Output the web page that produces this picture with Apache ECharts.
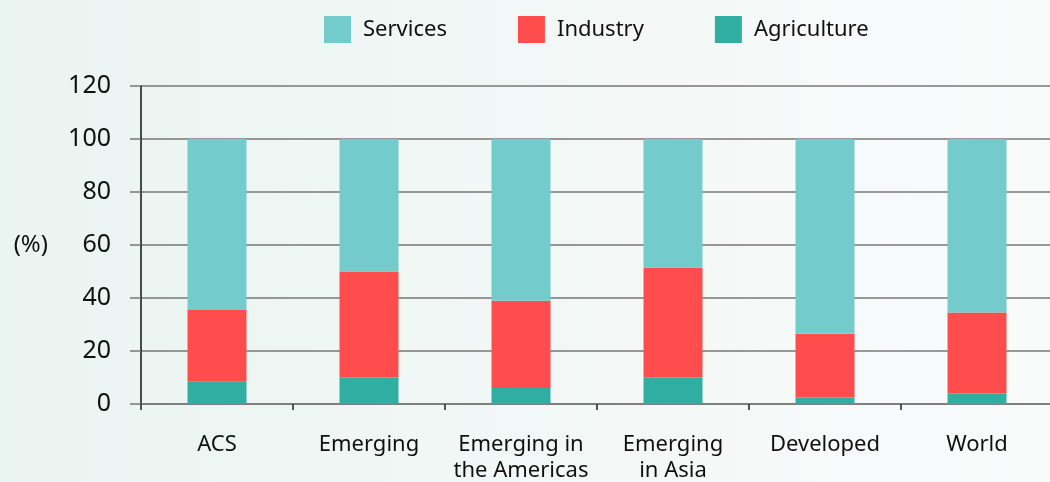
<!DOCTYPE html>
<html>
<head>
<meta charset="utf-8">
<script src="https://cdn.jsdelivr.net/npm/echarts@6/dist/echarts.min.js"></script>
<style>
  html, body { margin: 0; padding: 0; }
  #chart { width: 1050px; height: 482px; }
</style>
</head>
<body>
<div id="chart"></div>
<script>
const categories = ["ACS", "Emerging", "Emerging in\nthe Americas", "Emerging\nin Asia", "Developed", "World"];
const agriculture = [8.4, 10, 6, 10, 2.5, 4];
const industry = [27.1, 40, 33, 41.5, 24, 30.5];
const services = [64.5, 50, 61, 48.5, 73.5, 65.5];
const yTicks = { min: 0, max: 120, interval: 20 };

const colors = {
  services: "#74cbcb",
  industry: "#ff4d4d",
  agriculture: "#31aea2",
};

var chart = echarts.init(document.getElementById("chart"));
var font = "Noto Sans";

var option = {
  backgroundColor: new echarts.graphic.LinearGradient(0, 0, 1, 0, [
    { offset: 0, color: "#eaf4f1" },
    { offset: 1, color: "#f9fbfb" },
  ]),
  animation: false,
  legend: {
    left: 324,
    top: 16,
    padding: 0,
    itemWidth: 27,
    itemHeight: 27,
    itemGap: 71,
    icon: "rect",
    data: ["Services", "Industry", "Agriculture"],
    textStyle: {
      fontFamily: font,
      fontSize: 22,
      color: "#111",
      padding: [0, 0, 0, 7],
    },
  },
  grid: {
    left: 141,
    right: -3,
    top: 86,
    bottom: 78,
    outerBoundsMode: "none",
  },
  xAxis: {
    type: "category",
    data: categories,
    axisLine: { lineStyle: { color: "#777", width: 1.5 } },
    axisTick: { show: true, length: 6, lineStyle: { color: "#222", width: 1.5 } },
    axisLabel: {
      fontFamily: font,
      fontSize: 22,
      color: "#111",
      margin: 28,
      lineHeight: 26,
      interval: 0,
    },
  },
  yAxis: {
    type: "value",
    min: yTicks.min,
    max: yTicks.max,
    interval: yTicks.interval,
    name: "(%)",
    nameLocation: "middle",
    nameRotate: 0,
    nameGap: 93,
    nameTextStyle: { fontFamily: font, fontSize: 24, color: "#111" },
    axisLine: { show: true, lineStyle: { color: "#111", width: 1.5 } },
    axisTick: { show: true, length: 11, lineStyle: { color: "#777", width: 1.5 } },
    axisLabel: { fontFamily: font, fontSize: 25, color: "#111", margin: 30 },
    splitLine: { lineStyle: { color: "#777", width: 1.5 } },
  },
  series: [
    {
      name: "Agriculture",
      type: "bar",
      stack: "total",
      barWidth: 59,
      itemStyle: { color: colors.agriculture },
      data: agriculture,
    },
    {
      name: "Industry",
      type: "bar",
      stack: "total",
      itemStyle: { color: colors.industry },
      data: industry,
    },
    {
      name: "Services",
      type: "bar",
      stack: "total",
      itemStyle: { color: colors.services },
      data: services,
    },
  ],
};

chart.setOption(option);
</script>
</body>
</html>
